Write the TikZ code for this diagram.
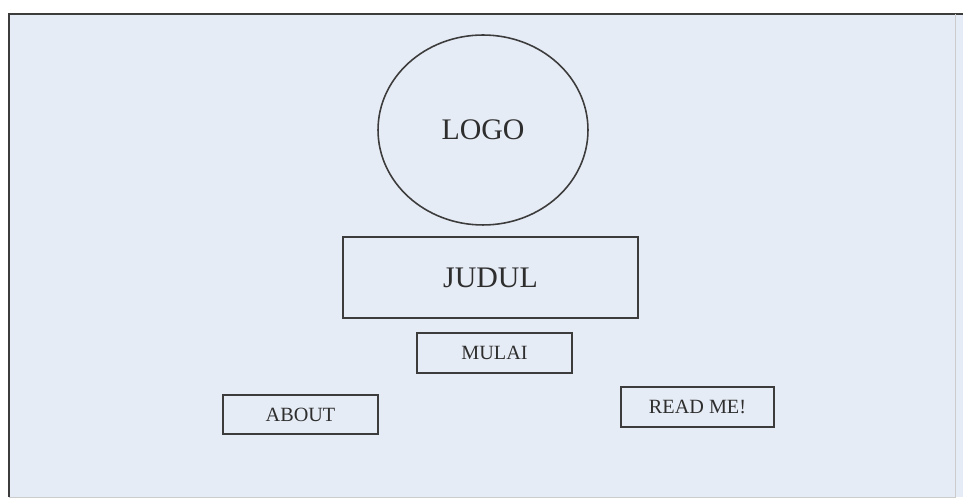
\documentclass[tikz,border=0pt]{standalone}
\usepackage{fontspec}
\setmainfont{Liberation Serif}
\usepackage{xcolor}
\usetikzlibrary{shapes.geometric}
\definecolor{panel}{HTML}{E6ECF6}
\definecolor{edge}{HTML}{3C3C3C}
\definecolor{ink}{HTML}{2E2E2E}
\tikzstyle{box} = [draw=edge, line width=0.9pt, text=ink, font=\fontsize{11.5}{14}\selectfont, minimum width=3.1cm, minimum height=0.8cm, inner sep=0pt]
\tikzstyle{title} = [box, font=\fontsize{17}{20}\selectfont]

\begin{document}
\begin{tikzpicture}[x=0.02cm, y=-0.02cm]
    \useasboundingbox (0,0) rectangle (963,502);
    \fill[panel] (9,14) rectangle (963,497);
    \draw[edge, line width=1.4pt] (9,497)--(9,14)--(963,14);
    \draw[gray!40, line width=0.5pt] (955,14)--(955,497)--(9,497);
    \node[title, ellipse, minimum width=4.2cm, minimum height=3.8cm] (logo) at (483,130) {LOGO};
    \node[title, minimum width=5.9cm, minimum height=1.62cm] (judul) at (490.5,277.5) {JUDUL};
    \node[box] (mulai) at (494.5,353) {MULAI};
    \node[box, minimum height=0.78cm] (about) at (300.5,414.5) {ABOUT};
    \node[box, minimum width=3.06cm] (readme) at (697.5,407) {READ ME!};
  \end{tikzpicture}
\end{document}
